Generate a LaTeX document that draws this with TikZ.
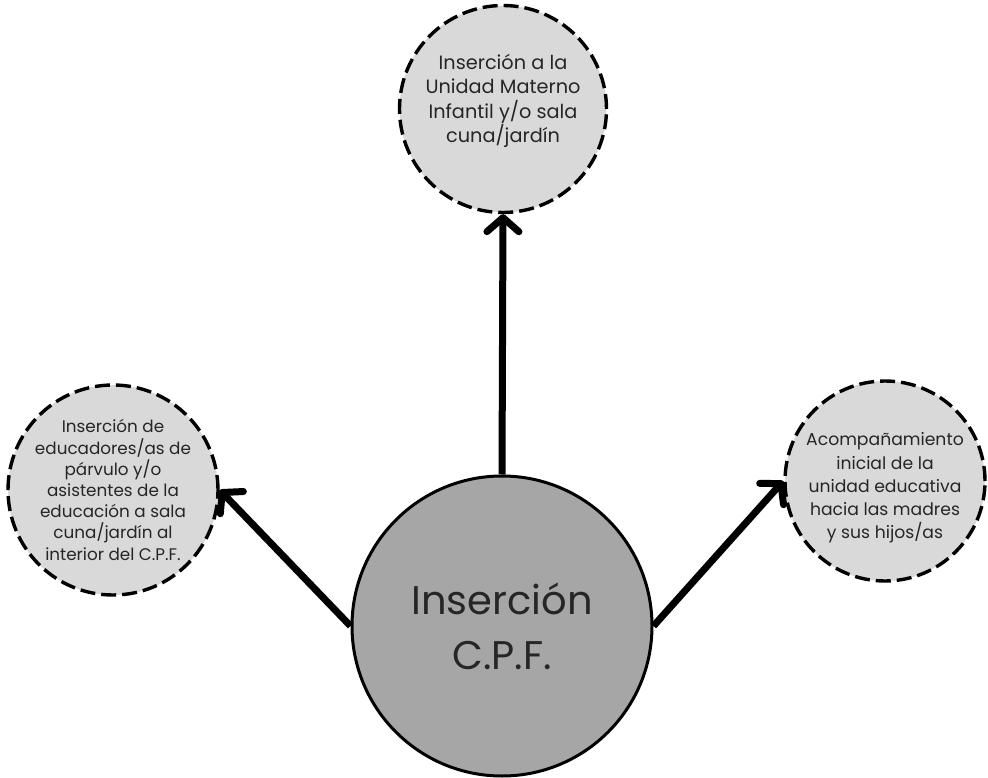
\documentclass[tikz,border=0pt]{standalone}
\usepackage{fontspec}
\setmainfont{Poppins}
\usetikzlibrary{arrows.meta}
\definecolor{smallfill}{HTML}{D9D9D9}
\definecolor{bigfill}{HTML}{A6A6A6}
\tikzset{
  smallcirc/.style={circle, draw=black, fill=smallfill, line width=3.4pt, dash pattern=on 15pt off 6pt, inner sep=0pt},
  bigcirc/.style={circle, draw=black, fill=bigfill, line width=3pt, inner sep=0pt, minimum size=300pt},
  smalltext/.style={align=center, font=\fontsize{19.3}{24.3}\selectfont, text=black!85, inner sep=0pt},
  lefttext/.style={align=center, font=\fontsize{16.8}{21.2}\selectfont, text=black!85, inner sep=0pt},
  righttext/.style={align=center, font=\fontsize{17.2}{23.3}\selectfont, text=black!85, inner sep=0pt},
  bigtext/.style={align=center, font=\fontsize{40}{55}\selectfont, text=black!85, inner sep=0pt},
  conn/.style={line width=7pt, -{Straight Barb[length=14pt,width=32pt,line cap=round,line join=round]}}
}
\begin{document}
\begin{tikzpicture}[x=1pt,y=-1pt]
\useasboundingbox (0,0) rectangle (988,778);
\node[smallcirc, minimum size=207pt] (top) at (503,109) {};
\node[smallcirc, minimum size=210pt] (left) at (113,490) {};
\node[smallcirc, minimum size=200pt] (right) at (885,481) {};
\node[bigcirc] (c) at (502,626) {};
\node[smalltext] (toptext) at (503,101) {Inserción a la\\Unidad Materno\\Infantil y/o sala\\cuna/jardín};
\node[lefttext] (lefttxt) at (113,490) {Inserción de\\educadores/as de\\párvulo y/o\\asistentes de la\\educación a sala\\cuna/jardín al\\interior del C.P.F.};
\node[righttext] (righttxt) at (885,488) {Acompañamiento\\inicial de la\\unidad educativa\\hacia las madres\\y sus hijos/as};
\node[bigtext] (ctext) at (502,626) {Inserción\\C.P.F.};
\draw[conn] (c.north) -- (top.south);
\draw[conn] (c.west) -- (left.east);
\draw[conn] (c.east) -- (right.west);
\end{tikzpicture}
\end{document}
